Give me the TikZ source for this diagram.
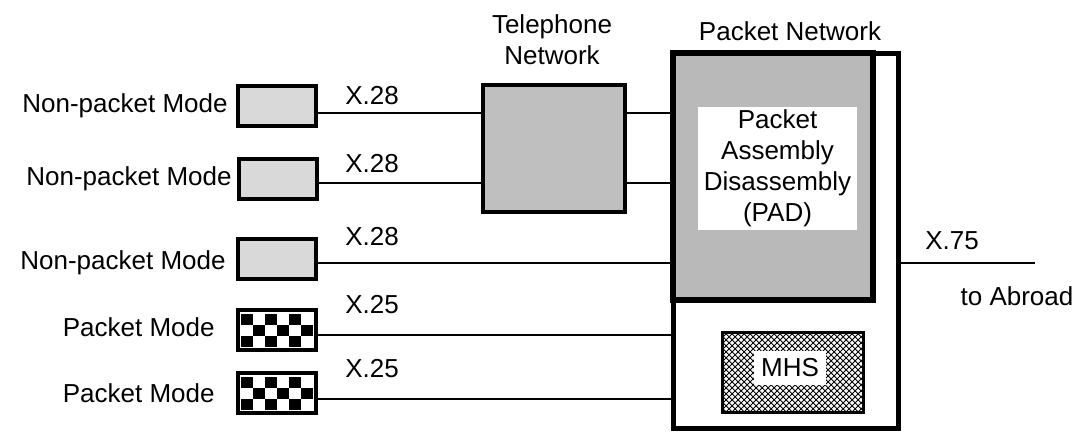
\documentclass[tikz,border=0pt]{standalone}
\usepackage{fontspec}
\setmainfont{Liberation Sans}
\usetikzlibrary{patterns}

\begin{document}
\begin{tikzpicture}[x=0.5pt,y=-0.5pt,
  every node/.style={font=\fontsize{13}{15.5}\selectfont,inner sep=0pt},
  termbox/.style={draw,line width=2pt,fill=gray!30,minimum width=39pt,minimum height=20pt},
  link/.style={line width=1pt}]
\useasboundingbox (0,0) rectangle (1085,436);
% line levels
\coordinate (r1) at (0,113);
\coordinate (r2) at (0,183);
\coordinate (r3) at (0,263);
\coordinate (r4) at (0,335);
\coordinate (r5) at (0,399);
% terminals
\node[termbox] (np1) at (277,106) {};
\node[termbox] (np2) at (278,179) {};
\node[termbox] (np3) at (277,259) {};
\node[termbox,fill=white] (pm1) at (277,330) {};
\node[termbox,fill=white] (pm2) at (277,393) {};
\foreach \b in {pm1,pm2}
  \foreach \i/\j in {0/0,2/0,4/0,1/1,3/1,5/1,0/2,2/2,4/2}
    \fill (\b.center) ++({-36+12*\i},{-16+11*\j}) rectangle ++(12,11);
\node[anchor=east] (l1) at (228,106) {Non-packet Mode};
\node[anchor=east] (l2) at (232,179) {Non-packet Mode};
\node[anchor=east] (l3) at (226,263) {Non-packet Mode};
\node[anchor=east] (l4) at (215,327) {Packet Mode};
\node[anchor=east] (l5) at (215,393) {Packet Mode};
% telephone network
\node[draw,line width=2pt,fill=gray!50,minimum width=71pt,minimum height=63.5pt] (tel) at (554,148) {};
\node[align=center] (tellbl) at (552,40) {Telephone\\Network};
% packet network
\node[draw,line width=2.5pt,minimum width=112.5pt,minimum height=187.5pt] (pn) at (785.5,240.5) {};
\node[draw,line width=3pt,fill=gray!55,minimum width=100pt,minimum height=123.5pt] (padblk) at (773,176.5) {};
\node[fill=white,minimum width=79.5pt,minimum height=61.5pt,align=center] (pad) at (777.5,168.5) {Packet\\Assembly\\Disassembly\\(PAD)};
\node (pnlbl) at (790,31) {Packet Network};
\node[draw,line width=1.5pt,pattern=crosshatch,minimum width=70.5pt,minimum height=40pt] (mhs) at (792.5,372) {};
\node[fill=white,inner sep=3.7pt] (mhstxt) at (790,368) {MHS};
% links
\draw[link] (np1.east |- r1) -- (tel.west |- r1);
\draw[link] (tel.east |- r1) -- (padblk.west |- r1);
\draw[link] (np2.east |- r2) -- (tel.west |- r2);
\draw[link] (tel.east |- r2) -- (padblk.west |- r2);
\draw[link] (np3.east |- r3) -- (pn.west |- r3);
\draw[link] (pm1.east |- r4) -- (pn.west |- r4);
\draw[link] (pm2.east |- r5) -- (pn.west |- r5);
\coordinate (abroad) at (1035,263);
\draw[link] (pn.east |- r3) -- (abroad);
\node (x1) at (372,96) {X.28};
\node (x2) at (372,164) {X.28};
\node (x3) at (372,237) {X.28};
\node (x4) at (372,305) {X.25};
\node (x5) at (372,369) {X.25};
\node (x75) at (952,241) {X.75};
\node (abr) at (1017,296) {to Abroad};
\end{tikzpicture}
\end{document}
